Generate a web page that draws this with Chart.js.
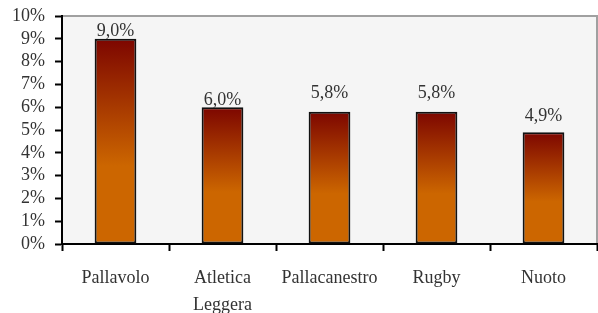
<!DOCTYPE html>
<html>
<head>
<meta charset="utf-8">
<script src="https://cdn.jsdelivr.net/npm/chart.js@4/dist/chart.umd.min.js"></script>
<style>
  html, body { margin: 0; padding: 0; background: #fff; }
  #wrap { width: 598px; height: 313px; position: relative; }
</style>
</head>
<body>
<div id="wrap"><canvas id="chart"></canvas></div>
<script>
// ─── Data ───
var categories = ['Pallavolo', ['Atletica', 'Leggera'], 'Pallacanestro', 'Rugby', 'Nuoto'];
var shares = [9.0, 6.0, 5.8, 5.8, 4.9];
var yTickLabels = ['0%', '1%', '2%', '3%', '4%', '5%', '6%', '7%', '8%', '9%', '10%'];

// distance from the label baseline to the top of its bar (px)
var labelGaps = [3, 2, 14, 14, 11];

var FONT = "'Liberation Serif', 'DejaVu Serif', serif";
var TEXT = '#333333';

function barGradient(ctx) {
  var chart = ctx.chart;
  var y = chart.scales.y;
  if (!y || ctx.type !== 'data') return '#cc6600';
  var top = y.getPixelForValue(ctx.raw);
  var base = y.getPixelForValue(0);
  if (!isFinite(top) || !isFinite(base) || top === base) return '#cc6600';
  var g = chart.ctx.createLinearGradient(0, top, 0, base);
  g.addColorStop(0, '#7d0600');
  g.addColorStop(0.62, '#cc6600');
  g.addColorStop(1, '#cc6600');
  return g;
}

// plot background + grey frame on top/right
var plotFrame = {
  id: 'plotFrame',
  beforeDraw: function (chart) {
    var a = chart.chartArea, c = chart.ctx;
    c.save();
    c.fillStyle = '#f5f5f5';
    c.fillRect(a.left, a.top, a.right - a.left, a.bottom - a.top);
    c.strokeStyle = '#a0a0a0';
    c.lineWidth = 2;
    c.beginPath();
    c.moveTo(a.left, a.top);
    c.lineTo(a.right, a.top);
    c.lineTo(a.right, a.bottom);
    c.stroke();
    c.restore();
  }
};

var valueLabels = {
  id: 'valueLabels',
  afterDatasetsDraw: function (chart) {
    var c = chart.ctx;
    var meta = chart.getDatasetMeta(0);
    c.save();
    c.font = '18px ' + FONT;
    c.fillStyle = TEXT;
    c.textAlign = 'center';
    c.textBaseline = 'alphabetic';
    meta.data.forEach(function (bar, i) {
      var txt = shares[i].toFixed(1).replace('.', ',') + '%';
      c.fillText(txt, bar.x, bar.y - labelGaps[i]);
    });
    c.restore();
  }
};

new Chart(document.getElementById('chart'), {
  type: 'bar',
  data: {
    labels: categories,
    datasets: [{
      data: shares,
      backgroundColor: barGradient,
      borderColor: '#111111',
      borderWidth: 2,
      borderSkipped: false,
      categoryPercentage: 1,
      barPercentage: 0.39
    }]
  },
  options: {
    responsive: true,
    maintainAspectRatio: false,
    animation: false,
    layout: { autoPadding: false, padding: { top: 16, right: 1, left: 0, bottom: 0 } },
    plugins: {
      legend: { display: false },
      tooltip: { enabled: false }
    },
    scales: {
      x: {
        grid: {
          offset: true,
          drawOnChartArea: false,
          drawTicks: true,
          tickLength: 7,
          tickColor: '#000',
          tickWidth: 2
        },
        border: { color: '#000', width: 2 },
        ticks: {
          color: TEXT,
          padding: 14,
          maxRotation: 0,
          autoSkip: false,
          font: { family: FONT, size: 18, lineHeight: 1.5 }
        },
        afterFit: function (scale) {
          scale.height = 69;
          scale.paddingLeft = 0;
          scale.paddingRight = 0;
        }
      },
      y: {
        min: 0,
        max: 10,
        grid: {
          drawOnChartArea: false,
          drawTicks: true,
          tickLength: 7,
          tickColor: '#000',
          tickWidth: 2
        },
        border: { color: '#000', width: 2 },
        ticks: {
          stepSize: 1,
          autoSkip: false,
          color: TEXT,
          padding: 10,
          font: { family: FONT, size: 18 },
          callback: function (v, i) { return yTickLabels[i]; }
        },
        afterFit: function (scale) {
          scale.width = 62;
          scale.paddingTop = 0;
          scale.paddingBottom = 0;
        }
      }
    }
  },
  plugins: [plotFrame, valueLabels]
});
</script>
</body>
</html>
